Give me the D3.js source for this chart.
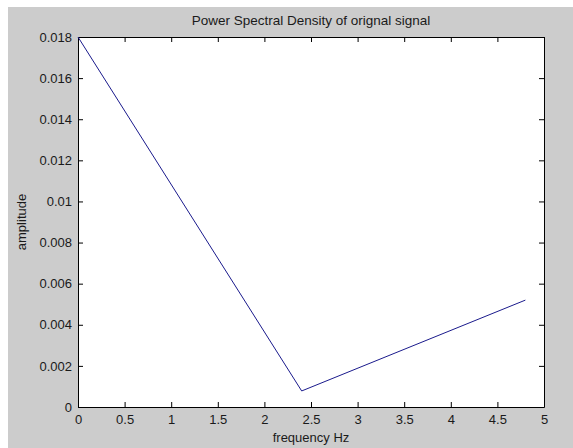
<!DOCTYPE html>
<html><head><meta charset="utf-8">
<script src="https://cdn.jsdelivr.net/npm/d3@7"></script>
<style>html,body{margin:0;padding:0;background:#fff;}svg{display:block;}</style>
</head><body>
<script>
const freq = [0, 2.4, 4.8];
const amplitude = [0.018, 0.00078, 0.0052];
const xTicks = [0, 0.5, 1, 1.5, 2, 2.5, 3, 3.5, 4, 4.5, 5];
const yTicks = [0, 0.002, 0.004, 0.006, 0.008, 0.01, 0.012, 0.014, 0.016, 0.018];
const titleText = "Power Spectral Density of orignal signal";
const xLabel = "frequency Hz";
const yLabel = "amplitude";

const W = 573, H = 448;
const L = 78, R = 544, T = 37, B = 407;
const svg = d3.select("body").append("svg").attr("width", W).attr("height", H);
svg.append("rect").attr("x", 8).attr("y", 7).attr("width", W - 8).attr("height", H - 7).attr("fill", "#cccccc");
svg.append("rect").attr("x", L).attr("y", T).attr("width", R - L).attr("height", B - T).attr("fill", "#ffffff");

const x = d3.scaleLinear().domain([0, 5]).range([L, R]);
const y = d3.scaleLinear().domain([0, 0.018]).range([B, T]);
const font = "'Liberation Sans', Arial, sans-serif";

const fmt = d => String(+d.toFixed(3));
const gB = svg.append("g").attr("transform", `translate(0,${B})`)
  .call(d3.axisBottom(x).tickValues(xTicks).tickFormat(fmt).tickSizeInner(-5).tickSizeOuter(0).tickPadding(8));
const gL = svg.append("g").attr("transform", `translate(${L},0)`)
  .call(d3.axisLeft(y).tickValues(yTicks).tickFormat(fmt).tickSizeInner(-5).tickSizeOuter(0).tickPadding(6));
const gT = svg.append("g").attr("transform", `translate(0,${T})`)
  .call(d3.axisTop(x).tickValues(xTicks).tickFormat("").tickSizeInner(-5).tickSizeOuter(0));
const gR = svg.append("g").attr("transform", `translate(${R},0)`)
  .call(d3.axisRight(y).tickValues(yTicks).tickFormat("").tickSizeInner(-5).tickSizeOuter(0));
[gB, gL, gT, gR].forEach(g => {
  g.selectAll("path.domain").attr("stroke", "#000").attr("stroke-width", 1);
  g.selectAll(".tick line").attr("stroke", "#000");
  g.selectAll("text").attr("fill", "#1a1a1a").style("font-family", font).style("font-size", "13px");
});

const line = d3.line().x((d, i) => x(freq[i])).y(d => y(d));
svg.append("path").datum(amplitude).attr("d", line).attr("fill", "none")
  .attr("stroke", "#1a1a8c").attr("stroke-width", 1);

svg.append("text").attr("x", (L + R) / 2).attr("y", 25).attr("text-anchor", "middle").attr("fill", "#1a1a1a")
  .style("font-family", font).style("font-size", "13.5px").text(titleText);
svg.append("text").attr("x", (L + R) / 2).attr("y", 442).attr("text-anchor", "middle").attr("fill", "#1a1a1a")
  .style("font-family", font).style("font-size", "13px").text(xLabel);
svg.append("text").attr("transform", `translate(26,${(T + B) / 2}) rotate(-90)`).attr("text-anchor", "middle").attr("fill", "#1a1a1a")
  .style("font-family", font).style("font-size", "13px").text(yLabel);
</script>
</body></html>
